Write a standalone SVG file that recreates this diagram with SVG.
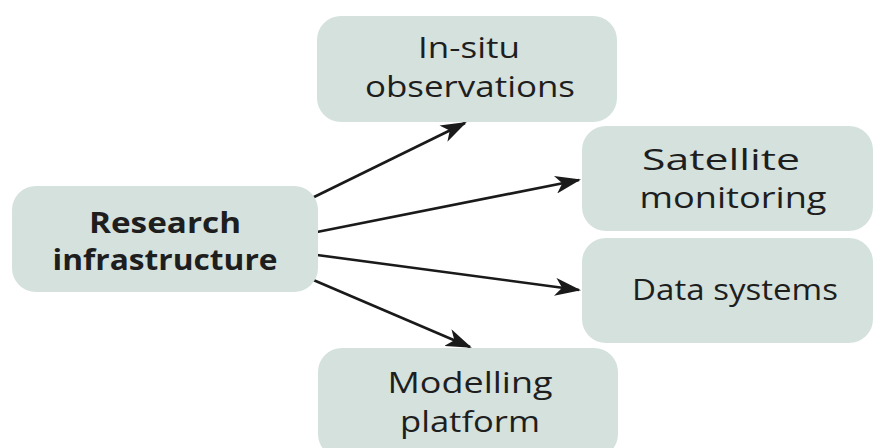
<svg xmlns="http://www.w3.org/2000/svg" width="879" height="448" viewBox="0 0 879 448">
  <style>
    .box { fill: #d4e1dd; }
    .lbl { font-family: "Open Sans", "Liberation Sans", sans-serif; font-size: 29px; fill: #1e1e1e; text-anchor: middle; }
    .bold { font-weight: bold; }
    .edge { stroke: #1a1a1a; stroke-width: 2.6; fill: none; marker-end: url(#arrow); }
  </style>
  <defs>
    <marker id="arrow" viewBox="0 0 26 18" refX="24" refY="9" markerWidth="26" markerHeight="18" markerUnits="userSpaceOnUse" orient="auto">
      <path d="M0,0 L26,9 L0,18 L7,9 Z" fill="#1a1a1a"/>
    </marker>
  </defs>
  <rect width="879" height="448" fill="#ffffff"/>

  <g id="connectors">
    <line class="edge" x1="310" y1="199" x2="465" y2="123"/>
    <line class="edge" x1="317" y1="232" x2="579" y2="180"/>
    <line class="edge" x1="317" y1="255" x2="579" y2="290"/>
    <line class="edge" x1="311" y1="279" x2="470" y2="347"/>
  </g>

  <g id="research-infrastructure">
    <rect class="box" x="12" y="186" width="306" height="106" rx="24"/>
    <text class="lbl bold" x="165" y="233" textLength="152" lengthAdjust="spacingAndGlyphs">Research</text>
    <text class="lbl bold" x="165" y="270" textLength="225" lengthAdjust="spacingAndGlyphs">infrastructure</text>
  </g>

  <g id="in-situ-observations">
    <rect class="box" x="317" y="16" width="300" height="106" rx="24"/>
    <text class="lbl" x="469" y="58" textLength="102" lengthAdjust="spacingAndGlyphs">In-situ</text>
    <text class="lbl" x="470" y="97" textLength="210" lengthAdjust="spacingAndGlyphs">observations</text>
  </g>

  <g id="satellite-monitoring">
    <rect class="box" x="582" y="126" width="291" height="105" rx="24"/>
    <text class="lbl" x="721" y="170" textLength="158" lengthAdjust="spacingAndGlyphs">Satellite</text>
    <text class="lbl" x="733" y="208" textLength="187" lengthAdjust="spacingAndGlyphs">monitoring</text>
  </g>

  <g id="data-systems">
    <rect class="box" x="582" y="238" width="291" height="105" rx="24"/>
    <text class="lbl" x="735" y="300" textLength="206" lengthAdjust="spacingAndGlyphs">Data systems</text>
  </g>

  <g id="modelling-platform">
    <rect class="box" x="318" y="348" width="300" height="110" rx="24"/>
    <text class="lbl" x="470" y="393" textLength="165" lengthAdjust="spacingAndGlyphs">Modelling</text>
    <text class="lbl" x="470" y="432" textLength="140" lengthAdjust="spacingAndGlyphs">platform</text>
  </g>
</svg>
